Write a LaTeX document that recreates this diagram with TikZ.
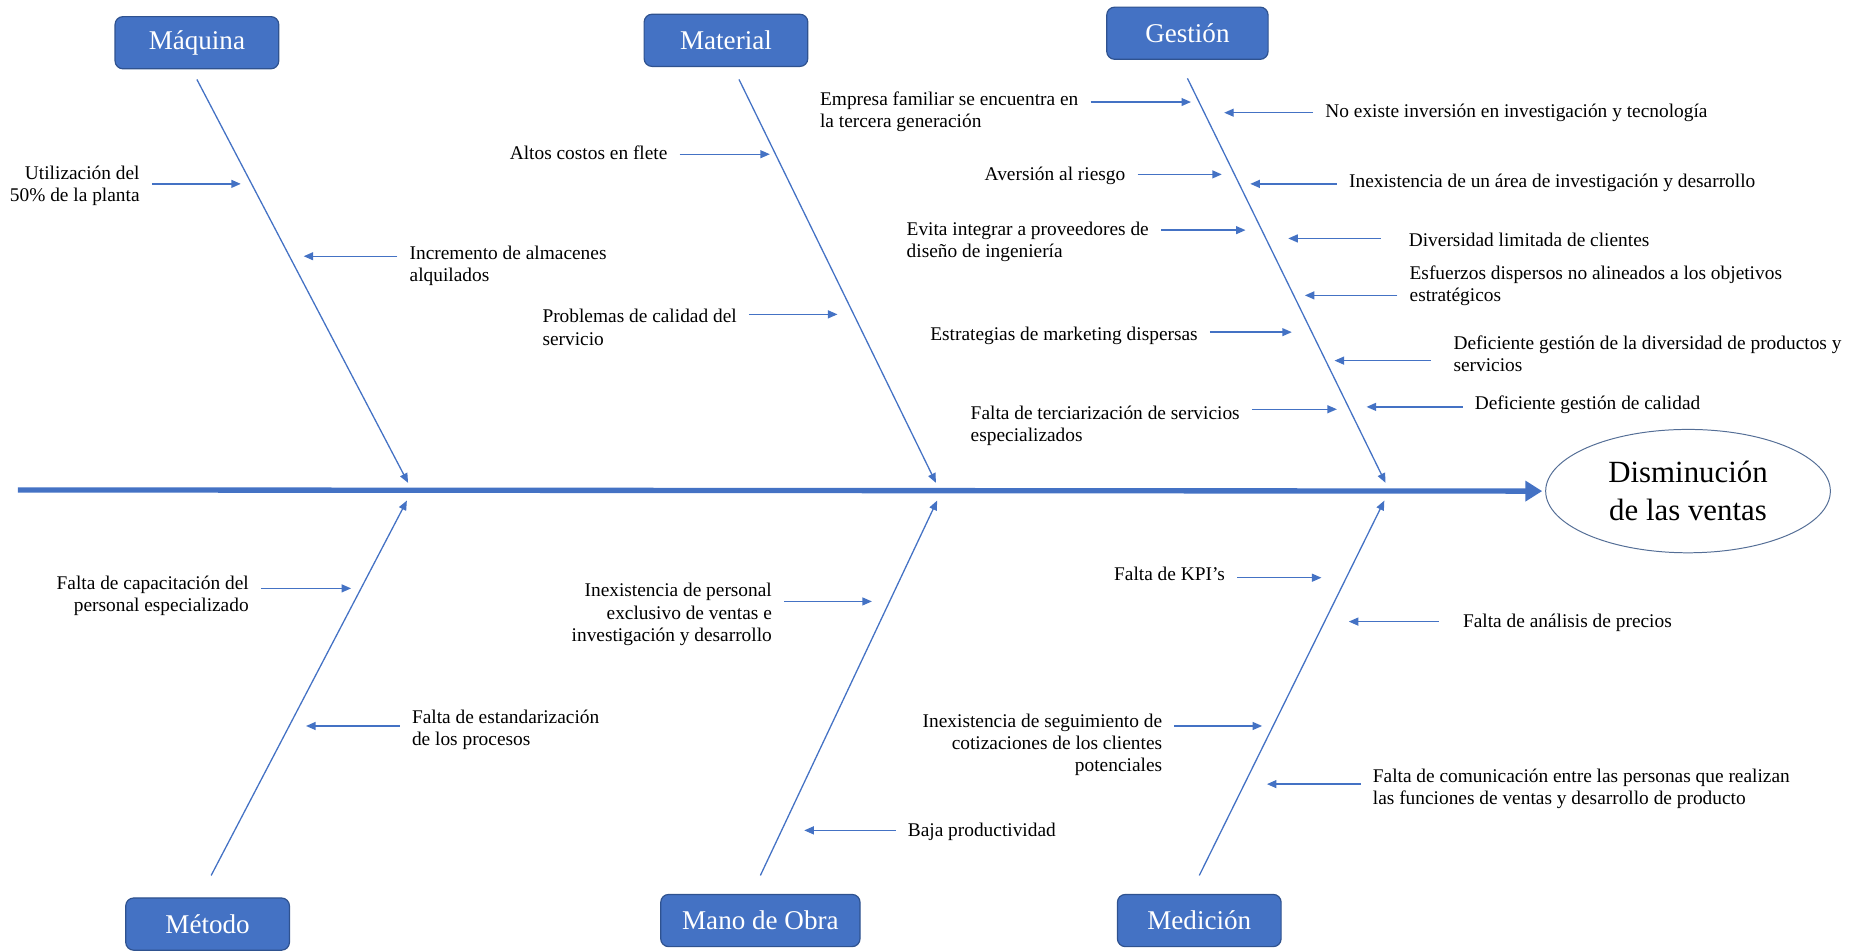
\documentclass[tikz,border=0pt]{standalone}
\usepackage{fontspec}
\setmainfont{Liberation Serif}
\usepackage{tikz}
\usetikzlibrary{arrows.meta,positioning,shapes.geometric}
\definecolor{azul}{RGB}{68,114,196}
\definecolor{azulborde}{RGB}{47,82,143}
\definecolor{elipse}{RGB}{84,110,150}

\begin{document}
\begin{tikzpicture}[x=0.6pt, y=-0.6pt,
  categoria/.style={draw=azulborde, line width=0.6pt, fill=azul, rounded corners=4pt,
    text=white, font=\fontsize{13.7}{16}\selectfont, minimum width=82.8pt, minimum height=26.4pt},
  causa/.style={font=\fontsize{9.8}{11.2}\selectfont, inner xsep=6pt, inner ysep=1pt, yshift=-1.2pt},
  hueso/.style={azul, line width=0.65pt, -{Triangle[length=4.8pt,width=4pt]}},
  flecha/.style={azul, line width=0.7pt, -{Triangle[length=4.8pt,width=4pt]}},
  espina/.style={azul, line width=2.7pt, -{Triangle[length=8.5pt,width=10pt]}}]
\useasboundingbox (0,0) rectangle (1568,802);

% categorias
\node[categoria] (maq) at (166,36) {Máquina};
\node[categoria] (mat) at (612,34) {Material};
\node[categoria, minimum width=81.6pt] (ges) at (1001,28) {Gestión};
\node[categoria] (met) at (175,779) {Método};
\node[categoria, minimum width=100.8pt] (mob) at (641,776) {Mano de Obra};
\node[categoria] (med) at (1011,776) {Medición};

% efecto
\node[ellipse, draw=elipse, line width=0.5pt, minimum width=144pt, minimum height=62.4pt,
  inner sep=0pt, align=center, font=\fontsize{15.6}{19.2}\selectfont] (efecto) at (1423,414)
  {Disminución\\de las ventas};

% espina
\coordinate (s0) at (15,413);
\draw[espina, shorten >=1.5pt] (s0) -- (efecto.west);

% huesos
\coordinate (maqT) at (166,67);  \coordinate (maqE) at (344,407);
\coordinate (matT) at (623,67);  \coordinate (matE) at (789,407);
\coordinate (gesT) at (1001,66); \coordinate (gesE) at (1168,407);
\coordinate (metT) at (178,738); \coordinate (metE) at (343,422);
\coordinate (mobT) at (641,738); \coordinate (mobE) at (790,422);
\coordinate (medT) at (1011,738); \coordinate (medE) at (1167,422);
\foreach \a/\b in {maqT/maqE, matT/matE, gesT/gesE, metT/metE, mobT/mobE, medT/medE}
  \draw[hueso] (\a) -- (\b);

% causas: Maquina
\node[causa, anchor=east, align=right] (mq1) at (128,155) {Utilización del\\50\% de la planta};
\node[causa, anchor=west, align=left] (mq2) at (335,222) {Incremento de almacenes\\alquilados};
% Material
\node[causa, anchor=east] (mt1) at (573,127) {Altos costos en flete};
\node[causa, anchor=west, align=left] (mt2) at (447,274) {Problemas de calidad del\\servicio};
% Gestion
\node[causa, anchor=west, align=left] (gs1) at (681,92) {Empresa familiar se encuentra en\\la tercera generación};
\node[causa, anchor=east] (gs2) at (959,146) {Aversión al riesgo};
\node[causa, anchor=west, align=left] (gs3) at (754,202) {Evita integrar a proveedores de\\diseño de ingeniería};
\node[causa, anchor=east] (gs4) at (1020,281) {Estrategias de marketing dispersas};
\node[causa, anchor=west, align=left] (gs5) at (808,357) {Falta de terciarización de servicios\\especializados};
\node[causa, anchor=west] (gs6) at (1107,93) {No existe inversión en investigación y tecnología};
\node[causa, anchor=west] (gs7) at (1127,152) {Inexistencia de un área de investigación y desarrollo};
\node[causa, anchor=west, inner xsep=14pt] (gs8) at (1164,200) {Diversidad limitada de clientes};
\node[causa, anchor=west, align=left] (gs9) at (1178,239) {Esfuerzos dispersos no alineados a los objetivos\\estratégicos};
\node[causa, anchor=west, align=left, inner xsep=11.4pt] (gs10) at (1206,296) {Deficiente gestión de la diversidad de productos y\\servicios};
\node[causa, anchor=west] (gs11) at (1233,339) {Deficiente gestión de calidad};
% Metodo
\node[causa, anchor=east, align=right] (me1) at (220,500) {Falta de capacitación del\\personal especializado};
\node[causa, anchor=west, align=left] (me2) at (337,613) {Falta de estandarización\\de los procesos};
% Mano de obra
\node[causa, anchor=east, align=right] (mo1) at (661,516) {Inexistencia de personal\\exclusivo de ventas e\\investigación y desarrollo};
\node[causa, anchor=west] (mo2) at (755,699) {Baja productividad};
% Medicion
\node[causa, anchor=east] (md1) at (1043,482) {Falta de KPI's};
\node[causa, anchor=west, inner xsep=12pt] (md2) at (1213,523) {Falta de análisis de precios};
\node[causa, anchor=east, align=right] (md3) at (990,626) {Inexistencia de seguimiento de\\cotizaciones de los clientes\\potenciales};
\node[causa, anchor=west, align=left] (md4) at (1147,663) {Falta de comunicación entre las personas que realizan\\las funciones de ventas y desarrollo de producto};

% puntas sobre los huesos
\coordinate (pmq1) at (203,155);  \coordinate (pmq2) at (256,216);
\coordinate (pmt1) at (649,130);  \coordinate (pmt2) at (706,265);
\coordinate (pgs1) at (1004,86);  \coordinate (pgs2) at (1030,147);
\coordinate (pgs3) at (1050,194); \coordinate (pgs4) at (1089,280);
\coordinate (pgs5) at (1127,345); \coordinate (pgs6) at (1032,95);
\coordinate (pgs7) at (1054,155); \coordinate (pgs8) at (1086,201);
\coordinate (pgs9) at (1100,249); \coordinate (pgs10) at (1125,304);
\coordinate (pgs11) at (1152,343);
\coordinate (pme1) at (296,496);  \coordinate (pme2) at (258,612);
\coordinate (pmo1) at (735,507);  \coordinate (pmo2) at (678,700);
\coordinate (pmd1) at (1114,487); \coordinate (pmd2) at (1137,524);
\coordinate (pmd3) at (1064,612); \coordinate (pmd4) at (1068,661);

\foreach \t/\p in {mq1/pmq1, mt1/pmt1, mt2/pmt2, gs1/pgs1, gs2/pgs2, gs3/pgs3, gs4/pgs4,
    gs5/pgs5, me1/pme1, mo1/pmo1, md1/pmd1, md3/pmd3}
  \draw[flecha] (\t.east |- \p) -- (\p);
\foreach \t/\p in {mq2/pmq2, gs6/pgs6, gs7/pgs7, gs8/pgs8, gs9/pgs9, gs10/pgs10, gs11/pgs11,
    me2/pme2, mo2/pmo2, md2/pmd2, md4/pmd4}
  \draw[flecha] (\t.west |- \p) -- (\p);
\end{tikzpicture}
\end{document}
